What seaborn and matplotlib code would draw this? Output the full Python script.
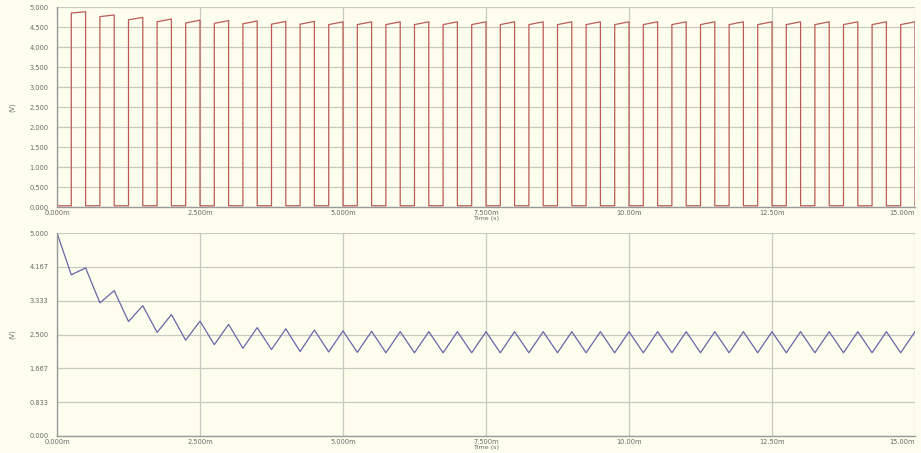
import numpy as np
import pandas as pd
import matplotlib
matplotlib.use("Agg")
import matplotlib.pyplot as plt
import seaborn as sns
from matplotlib.ticker import MultipleLocator

sns.set_theme(style="white")
plt.rcParams['font.family'] = ['DejaVu Sans']

# ---- data (times in ms, voltages in V) ----
pulse_period = 0.5            # ms
pulse_rise = 0.25             # first rising edge (ms)
pulse_width = 0.25            # ms
low_level = 0.03
pulse_top_start = [4.85, 4.76, 4.68, 4.63, 4.60, 4.59, 4.58, 4.57, 4.57, 4.56,
                   4.56, 4.56, 4.56, 4.56, 4.56, 4.56, 4.56, 4.56, 4.56, 4.56,
                   4.56, 4.56, 4.56, 4.56, 4.56, 4.56, 4.56, 4.56, 4.56, 4.56]
pulse_top_end = [4.88, 4.80, 4.74, 4.70, 4.67, 4.66, 4.65, 4.64, 4.64, 4.63,
                 4.63, 4.63, 4.63, 4.63, 4.63, 4.63, 4.63, 4.63, 4.63, 4.63,
                 4.63, 4.63, 4.63, 4.63, 4.63, 4.63, 4.63, 4.63, 4.63, 4.63]

cap_times = np.arange(0, 15.001, 0.25)
cap_volts = [5.00, 3.97, 4.14, 3.28, 3.58, 2.82, 3.21, 2.55, 2.99, 2.36,
             2.83, 2.25, 2.75, 2.16, 2.67, 2.13, 2.64, 2.08, 2.61, 2.07,
             2.59, 2.06, 2.58, 2.05, 2.57, 2.05, 2.57, 2.05, 2.57, 2.05,
             2.57, 2.05, 2.57, 2.05, 2.57, 2.05, 2.57, 2.05, 2.57, 2.05,
             2.57, 2.05, 2.57, 2.05, 2.57, 2.05, 2.57, 2.05, 2.57, 2.05,
             2.57, 2.05, 2.57, 2.05, 2.57, 2.05, 2.57, 2.05, 2.57, 2.05,
             2.57]

x_ticks = [0, 2.5, 5.0, 7.5, 10.0, 12.5, 15.0]
x_ticklabels = ["0.000m", "2.500m", "5.000m", "7.500m", "10.00m", "12.50m", "15.00m"]
top_yticks = [0, 0.5, 1.0, 1.5, 2.0, 2.5, 3.0, 3.5, 4.0, 4.5, 5.0]
top_yticklabels = ["0.000", "0.500", "1.000", "1.500", "2.000", "2.500",
                   "3.000", "3.500", "4.000", "4.500", "5.000"]
bot_yticks = [0, 5/6, 10/6, 2.5, 20/6, 25/6, 5.0]
bot_yticklabels = ["0.000", "0.833", "1.667", "2.500", "3.333", "4.167", "5.000"]

# build square-wave trace
sq_t = [0.0]
sq_v = [low_level]
for i, (a, b) in enumerate(zip(pulse_top_start, pulse_top_end)):
    t0 = pulse_rise + i * pulse_period
    t1 = t0 + pulse_width
    sq_t += [t0, t0, t1, t1]
    sq_v += [low_level, a, b, low_level]
sq_df = pd.DataFrame({"t": sq_t, "v": sq_v})
cap_df = pd.DataFrame({"t": cap_times, "v": cap_volts})

bg = "#FEFEEE"
grid_c = "#C9C9C4"
spine_c = "#9A9A9A"
tick_c = "#6A6A6A"

fig = plt.figure(figsize=(9.21, 4.53), dpi=100, facecolor=bg)
ax1 = fig.add_axes([57/921, 1-207/453, 858/921, 200/453])
ax2 = fig.add_axes([57/921, 1-436/453, 858/921, 203/453])

sns.lineplot(data=sq_df, x="t", y="v", ax=ax1, sort=False, estimator=None,
             color="#BC5A55", linewidth=0.9)
sns.lineplot(data=cap_df, x="t", y="v", ax=ax2, sort=False, estimator=None,
             color="#6666A8", linewidth=0.9)

for ax, yt, ytl, ymin in [(ax1, top_yticks, top_yticklabels, 0.1),
                          (ax2, bot_yticks, bot_yticklabels, 5/30)]:
    ax.set_facecolor(bg)
    ax.set_xlim(0, 15)
    ax.set_ylim(0, 5)
    ax.set_xticks(x_ticks)
    ax.set_xticklabels(x_ticklabels)
    ax.set_yticks(yt)
    ax.set_yticklabels(ytl)
    ax.xaxis.set_minor_locator(MultipleLocator(0.5))
    ax.yaxis.set_minor_locator(MultipleLocator(ymin))
    ax.grid(True, which="major", color=grid_c, linewidth=0.9)
    ax.set_axisbelow(True)
    for s in ["top", "right"]:
        ax.spines[s].set_visible(False)
    for s in ["left", "bottom"]:
        ax.spines[s].set_color(spine_c)
        ax.spines[s].set_linewidth(1.0)
    ax.tick_params(axis="both", which="major", direction="in", length=4,
                   color=spine_c, labelsize=4.8, labelcolor=tick_c, pad=6)
    ax.tick_params(axis="both", which="minor", direction="in", length=2.5,
                   color=spine_c)
    ax.tick_params(axis="x", which="major", pad=2)
    ax.get_xticklabels()[-1].set_horizontalalignment("right")
    ax.set_xlabel("Time (s)", fontsize=4.6, color=tick_c, labelpad=0)
    ax.set_ylabel("(V)", fontsize=4.8, color=tick_c, labelpad=10)

fig.savefig("out.png", dpi=100, facecolor=bg)
